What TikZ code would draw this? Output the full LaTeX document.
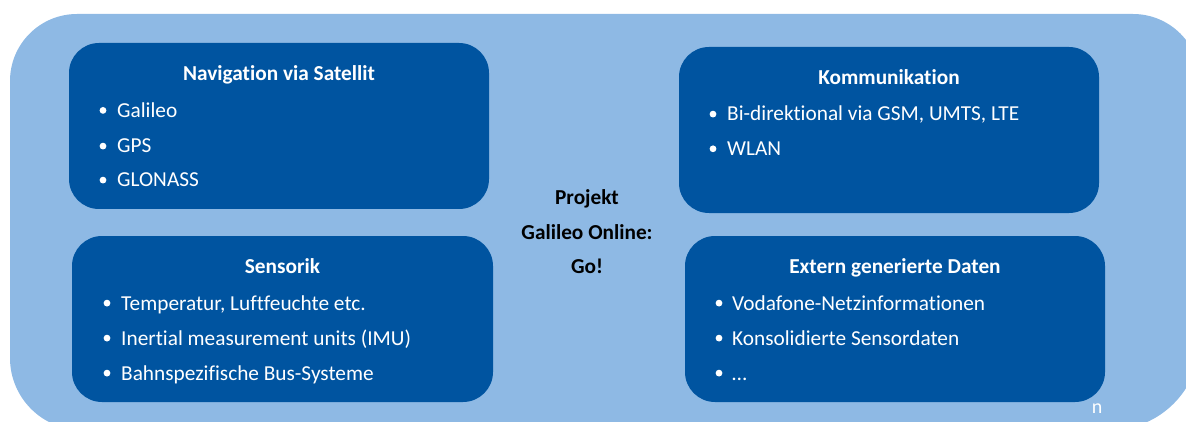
\documentclass[tikz,border=0pt]{standalone}
\usepackage{fontspec}
\setmainfont{Carlito}[Ligatures={NoCommon}]
\definecolor{bgblue}{HTML}{8EB9E4}
\definecolor{boxblue}{HTML}{0054A0}
\begin{document}
\begin{tikzpicture}[x=1pt,y=1pt,
  panel/.style={fill=boxblue, draw=none, rounded corners=30pt, inner sep=0pt},
  boxtitle/.style={anchor=base, text=white, font=\bfseries\fontsize{21.3}{25}\selectfont, inner sep=0pt},
  item/.style={anchor=base west, text=white, font=\fontsize{21.3}{25}\selectfont, inner sep=0pt},
  centertext/.style={anchor=base, text=black, font=\bfseries\fontsize{21.3}{25}\selectfont, inner sep=0pt},
  dot/.style={fill=white}]
\useasboundingbox (0,0) rectangle (1186,421);
\begin{scope}
  \clip (0,0) rectangle (1186,421);
  \fill[bgblue] (10,340) arc (180:90:67) -- (1133,407) arc (90:0:67) -- (1200,81) arc (0:-90:90) -- (82,-9) arc (270:180:72) -- cycle;
\end{scope}

% panels
\node[panel, minimum width=420pt, minimum height=166pt] (nav) at (279,295) {};
\node[panel, minimum width=420pt, minimum height=166pt] (kom) at (889,291) {};
\node[panel, minimum width=421pt, minimum height=166pt] (sen) at (282.5,102) {};
\node[panel, minimum width=420pt, minimum height=166pt] (ext) at (895,102) {};

% Navigation
\node[boxtitle] (navt) at (279,340.3) {Navigation via Satellit};
\foreach \y/\t [count=\i] in {303.7/Galileo, 268/GPS, 234/GLONASS}{
  \fill[dot] (103,\y+6.9) circle (3.4);
  \node[item] (nav\i) at (117,\y) {\t};
}

% Kommunikation
\node[boxtitle] (komt) at (889,336) {Kommunikation};
\foreach \y/\t [count=\i] in {300/{Bi-direktional via GSM, UMTS, LTE}, 265.3/WLAN}{
  \fill[dot] (713,\y+6.9) circle (3.4);
  \node[item] (kom\i) at (727,\y) {\t};
}

% Sensorik
\node[boxtitle] (sent) at (282.5,148) {Sensorik};
\foreach \y/\t [count=\i] in {111/{Temperatur, Luftfeuchte etc.}, 76/Inertial measurement units (IMU), 41/Bahnspezifische Bus-Systeme}{
  \fill[dot] (107,\y+6.9) circle (3.4);
  \node[item] (sen\i) at (121,\y) {\t};
}

% Extern
\node[boxtitle] (extt) at (895,148) {Extern generierte Daten};
\foreach \y/\t [count=\i] in {111/Vodafone-Netzinformationen, 76/Konsolidierte Sensordaten, 41/…}{
  \fill[dot] (719,\y+6.9) circle (3.4);
  \node[item] (ext\i) at (732,\y) {\t};
}

% center
\node[centertext] (c1) at (587,216) {Projekt};
\node[centertext] (c2) at (587,182) {Galileo Online:};
\node[centertext] (c3) at (587,148) {Go!};

\node[anchor=base, text=white, font=\fontsize{20}{24}\selectfont, inner sep=0pt] (nmark) at (1097,8) {n};
\end{tikzpicture}
\end{document}
